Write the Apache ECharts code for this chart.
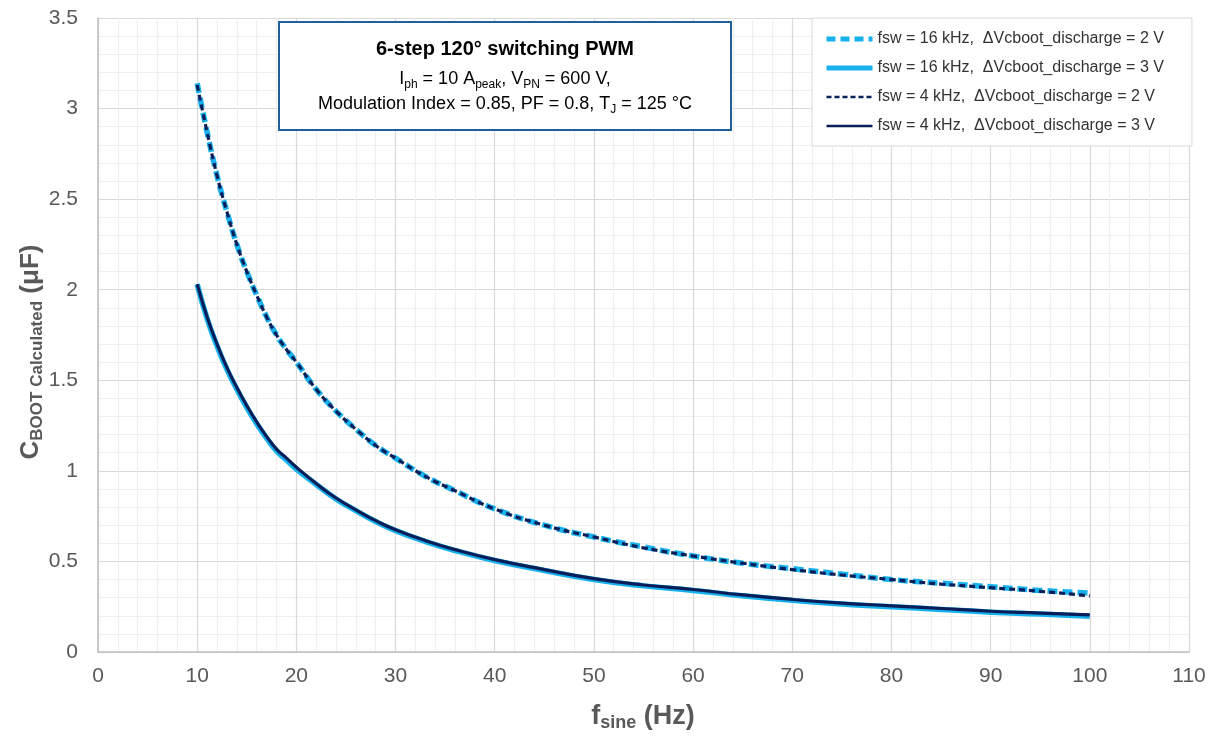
<!DOCTYPE html>
<html>
<head>
<meta charset="utf-8">
<script src="https://cdn.jsdelivr.net/npm/echarts@6/dist/echarts.min.js"></script>
<style>
html, body {margin: 0; padding: 0; background: #fff;}
#chart {width: 1227px; height: 736px;}
</style>
</head>
<body>
<div id="chart"></div>
<script>
// f_sine (Hz)
var freq = [10, 11, 12, 13, 14, 15, 16, 17, 18, 19, 20, 22, 24, 26, 28, 30, 33, 36, 40, 45, 50, 55, 60, 65, 70, 75, 80, 85, 90, 95, 100];

// C_BOOT calculated (uF)
var c16k2V = [3.14, 2.87, 2.63, 2.43, 2.25, 2.10, 1.97, 1.85, 1.75, 1.67, 1.60, 1.45, 1.33, 1.23, 1.14, 1.07, 0.97, 0.89, 0.79, 0.70, 0.635, 0.58, 0.53, 0.49, 0.46, 0.43, 0.40, 0.38, 0.36, 0.34, 0.325];
var c16k3V = [2.03, 1.84, 1.69, 1.56, 1.45, 1.35, 1.26, 1.18, 1.11, 1.06, 1.01, 0.925, 0.845, 0.78, 0.72, 0.67, 0.61, 0.56, 0.505, 0.45, 0.40, 0.365, 0.34, 0.31, 0.285, 0.265, 0.25, 0.235, 0.22, 0.21, 0.198];
var c4k2V = [3.13, 2.87, 2.63, 2.43, 2.25, 2.10, 1.97, 1.85, 1.75, 1.67, 1.60, 1.45, 1.33, 1.23, 1.14, 1.07, 0.97, 0.89, 0.79, 0.70, 0.635, 0.575, 0.53, 0.49, 0.455, 0.425, 0.40, 0.375, 0.355, 0.335, 0.31];
var c4k3V = [2.03, 1.85, 1.70, 1.57, 1.46, 1.36, 1.27, 1.19, 1.12, 1.07, 1.02, 0.93, 0.85, 0.785, 0.725, 0.675, 0.615, 0.565, 0.51, 0.455, 0.405, 0.37, 0.345, 0.315, 0.29, 0.27, 0.255, 0.24, 0.225, 0.215, 0.205];

var names = [
    "fsw = 16 kHz,  ΔVcboot_discharge = 2 V",
    "fsw = 16 kHz,  ΔVcboot_discharge = 3 V",
    "fsw = 4 kHz,  ΔVcboot_discharge = 2 V",
    "fsw = 4 kHz,  ΔVcboot_discharge = 3 V"
];

var lightBlue = "#17b2ee", navy = "#0a1f5a";
var font = "'Liberation Sans', Arial, sans-serif";
var grey = "#595959";

function pairs(ys) {
    return freq.map(function(f, i) {return [f, ys[i]]});
}

function curve(name, ys, color, width, dash) {
    return {
        name: name, type: "line", data: pairs(ys),
        smooth: true, symbol: "none", animation: false,
        lineStyle: {color: color, width: width, type: dash},
        itemStyle: {color: color}
    };
}

var chart = echarts.init(document.getElementById("chart"));
chart.setOption({
    animation: false,
    textStyle: {fontFamily: font},
    grid: {left: 98, right: 38, top: 18, bottom: 84},
    xAxis: {
        type: "value", min: 0, max: 110, interval: 10,
        axisLine: {show: true, lineStyle: {color: "#bfbfbf", width: 1.5}},
        axisTick: {show: false},
        axisLabel: {color: grey, fontSize: 21, fontFamily: font, margin: 14},
        splitLine: {show: true, lineStyle: {color: "#d9d9d9", width: 1.2}},
        minorTick: {show: false, splitNumber: 5},
        minorSplitLine: {show: true, lineStyle: {color: "#efefef", width: 1.2}}
    },
    yAxis: {
        type: "value", min: 0, max: 3.5, interval: 0.5,
        axisLine: {show: true, lineStyle: {color: "#bfbfbf", width: 1.5}},
        axisTick: {show: false},
        axisLabel: {color: grey, fontSize: 21, fontFamily: font, margin: 20},
        splitLine: {show: true, lineStyle: {color: "#d9d9d9", width: 1.2}},
        minorTick: {show: false, splitNumber: 5},
        minorSplitLine: {show: true, lineStyle: {color: "#efefef", width: 1.2}}
    },
    legend: {
        orient: "vertical", left: 812, top: 18,
        padding: [13, 28, 12, 12], itemGap: 13,
        itemWidth: 46, itemHeight: 16,
        itemStyle: {opacity: 0},
        backgroundColor: "#fff", borderColor: "#d9d9d9", borderWidth: 1,
        textStyle: {color: "#333", fontSize: 16, fontFamily: font},
        data: [
            {name: names[0], lineStyle: {width: 5, type: [9, 5]}},
            {name: names[1], lineStyle: {width: 5}},
            {name: names[2], lineStyle: {width: 2.5, type: [5, 3]}},
            {name: names[3], lineStyle: {width: 2.5}}
        ]
    },
    series: [
        curve(names[0], c16k2V, lightBlue, 5.5, [10, 5]),
        curve(names[1], c16k3V, lightBlue, 5.5, "solid"),
        curve(names[2], c4k2V, navy, 3.2, [6, 4]),
        curve(names[3], c4k3V, navy, 3.2, "solid")
    ],
    graphic: [
        {type: "rect", z: 100, shape: {x: 279, y: 22, width: 452, height: 108},
            style: {fill: "#fff", stroke: "#1f5f9c", lineWidth: 2}},
        {type: "text", z: 101, x: 505, y: 49,
            style: {text: "6-step 120° switching PWM", font: "bold 20px " + font, fill: "#000",
                align: "center", verticalAlign: "middle"}},
        {type: "text", z: 101, x: 505, y: 79,
            style: {text: "{n|I}{s|ph}{n| = 10 A}{s|peak}{n|, V}{s|PN}{n| = 600 V,}",
                align: "center", verticalAlign: "middle",
                rich: {
                    n: {fontSize: 18, fontFamily: font, fill: "#000", lineHeight: 24, verticalAlign: "middle"},
                    s: {fontSize: 12, fontFamily: font, fill: "#000", lineHeight: 12, verticalAlign: "bottom"}
                }}},
        {type: "text", z: 101, x: 505, y: 104,
            style: {text: "{n|Modulation Index = 0.85, PF = 0.8, T}{s|J}{n| = 125 °C}",
                align: "center", verticalAlign: "middle",
                rich: {
                    n: {fontSize: 18, fontFamily: font, fill: "#000", lineHeight: 24, verticalAlign: "middle"},
                    s: {fontSize: 12, fontFamily: font, fill: "#000", lineHeight: 12, verticalAlign: "bottom"}
                }}},
        {type: "text", x: 31, y: 352, rotation: Math.PI / 2,
            style: {text: "{b|C}{s|BOOT Calculated}{b| (μF)}",
                align: "center", verticalAlign: "middle",
                rich: {
                    b: {fontSize: 26, fontWeight: "bold", fontFamily: font, fill: grey, lineHeight: 30, verticalAlign: "middle"},
                    s: {fontSize: 17, fontWeight: "bold", fontFamily: font, fill: grey, lineHeight: 16, verticalAlign: "bottom"}
                }}},
        {type: "text", x: 643, y: 717,
            style: {text: "{b|f}{s|sine}{b| (Hz)}",
                align: "center", verticalAlign: "middle",
                rich: {
                    b: {fontSize: 27, fontWeight: "bold", fontFamily: font, fill: grey, lineHeight: 30, verticalAlign: "middle"},
                    s: {fontSize: 18, fontWeight: "bold", fontFamily: font, fill: grey, lineHeight: 16, verticalAlign: "bottom"}
                }}}
    ]
});
</script>
</body>
</html>
